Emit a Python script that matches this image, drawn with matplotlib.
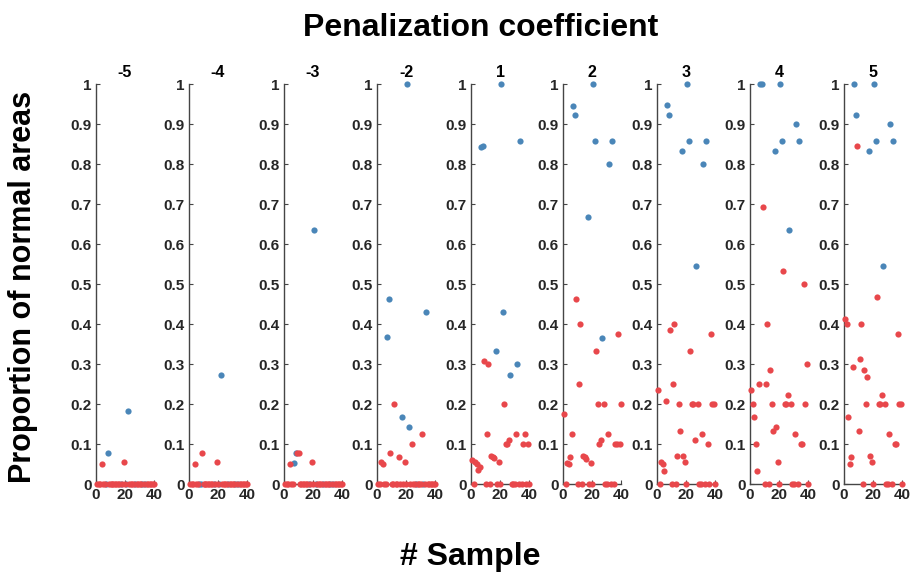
import numpy as np
import matplotlib.pyplot as plt

plt.rcParams["font.family"] = ["Liberation Sans", "DejaVu Sans"]
plt.rcParams["font.weight"] = "bold"

# penalization coefficients (one panel each)
coefs = ["-5", "-4", "-3", "-2", "1", "2", "3", "4", "5"]

# sample numbers of the two groups
red_samples = [1, 2, 3, 4, 5, 6, 9, 10, 11, 12, 13, 14, 15, 16, 18, 19, 20,
               23, 24, 25, 26, 28, 29, 30, 31, 33, 35, 36, 37, 38, 39, 40]
blue_samples = [7, 8, 17, 21, 22, 27, 32, 34]

# proportion of normal areas, red group
red_m5 = [0, 0, 0, 0.05, 0, 0, 0, 0, 0, 0, 0, 0, 0, 0, 0, 0.056, 0,
          0, 0, 0, 0, 0, 0, 0, 0, 0, 0, 0, 0, 0, 0, 0]
red_m4 = [0, 0, 0, 0.05, 0, 0, 0.077, 0, 0, 0, 0, 0, 0, 0, 0, 0.056, 0,
          0, 0, 0, 0, 0, 0, 0, 0, 0, 0, 0, 0, 0, 0, 0]
red_m3 = [0, 0, 0, 0.05, 0, 0, 0.077, 0.077, 0, 0, 0, 0, 0, 0, 0, 0.056, 0,
          0, 0, 0, 0, 0, 0, 0, 0, 0, 0, 0, 0, 0, 0, 0]
red_m2 = [0, 0, 0.056, 0.05, 0, 0, 0.077, 0, 0, 0.2, 0, 0, 0.067, 0, 0, 0.056, 0,
          0, 0.1, 0, 0, 0, 0, 0, 0.125, 0, 0, 0, 0, 0, 0, 0]
red_p1 = [0.059, 0, 0.056, 0.05, 0.036, 0.042, 0.308, 0, 0.125, 0.3, 0, 0.071,
          0.067, 0.065, 0, 0.056, 0, 0.2, 0.1, 0.1, 0.111, 0, 0, 0, 0.125, 0,
          0, 0.1, 0.125, 0, 0.1, 0]
red_p2 = [0.176, 0, 0.053, 0.05, 0.067, 0.125, 0.462, 0, 0.25, 0.4, 0, 0.071,
          0.067, 0.0625, 0, 0.053, 0, 0.333, 0.2, 0.1, 0.111, 0.2, 0, 0, 0.125,
          0, 0, 0.1, 0.1, 0.375, 0.1, 0.2]
red_p3 = [0.235, 0, 0.056, 0.05, 0.033, 0.208, 0.385, 0, 0.25, 0.4, 0, 0.071,
          0.2, 0.133, 0.071, 0.056, 0, 0.333, 0.2, 0.2, 0.111, 0.2, 0, 0, 0.125,
          0, 0.1, 0, 0.375, 0.2, 0.2, 0]
red_p4 = [0.235, 0.2, 0.167, 0.1, 0.033, 0.25, 0.692, 0, 0.25, 0.4, 0, 0.286,
          0.2, 0.133, 0.143, 0.056, 0, 0.533, 0.2, 0.2, 0.222, 0.2, 0, 0, 0.125,
          0, 0.1, 0.1, 0.5, 0.2, 0.3, 0]
red_p5 = [0.412, 0.4, 0.167, 0.05, 0.067, 0.292, 0.846, 0.133, 0.3125, 0.4, 0,
          0.286, 0.2, 0.267, 0.071, 0.056, 0, 0.467, 0.2, 0.2, 0.222, 0.2, 0, 0,
          0.125, 0, 0.1, 0.1, 0.375, 0.2, 0.2, 0]

# proportion of normal areas, blue group
blue_m5 = [0, 0.077, 0, 0, 0.182, 0, 0, 0]
blue_m4 = [0, 0, 0, 0, 0.273, 0, 0, 0]
blue_m3 = [0.053, 0.077, 0, 0.636, 0, 0, 0, 0]
blue_m2 = [0.368, 0.462, 0.167, 1.0, 0.143, 0, 0, 0.429]
blue_p1 = [0.843, 0.846, 0.333, 1.0, 0.429, 0.273, 0.3, 0.857]
blue_p2 = [0.946, 0.923, 0.667, 1.0, 0.857, 0.364, 0.8, 0.857]
blue_p3 = [0.947, 0.923, 0.833, 1.0, 0.857, 0.545, 0.8, 0.857]
blue_p4 = [1.0, 1.0, 0.833, 1.0, 0.857, 0.636, 0.9, 0.857]
blue_p5 = [1.0, 0.923, 0.833, 1.0, 0.857, 0.545, 0.9, 0.857]

red_all = [red_m5, red_m4, red_m3, red_m2, red_p1, red_p2, red_p3, red_p4, red_p5]
blue_all = [blue_m5, blue_m4, blue_m3, blue_m2, blue_p1, blue_p2, blue_p3, blue_p4, blue_p5]

RED = "#E8474B"
BLUE = "#4A86B8"
AXC = "#454545"
W, H = 911, 576

fig = plt.figure(figsize=(W / 100, H / 100), dpi=100)

lefts = [96, 189, 284, 377, 471, 563, 657, 750, 844]
for i, left in enumerate(lefts):
    ax = fig.add_axes([left / W, 92 / H, 58 / W, 400 / H])
    ax.scatter(blue_samples, blue_all[i], s=20, color=BLUE, linewidths=0,
               clip_on=False, zorder=3)
    ax.scatter(red_samples, red_all[i], s=20, color=RED, linewidths=0,
               clip_on=False, zorder=4)
    ax.set_xlim(0, 40)
    ax.set_ylim(0, 1)
    ax.set_xticks([0, 20, 40])
    ax.set_yticks(np.arange(0, 1.01, 0.1))
    ax.set_yticklabels(["0", "0.1", "0.2", "0.3", "0.4", "0.5", "0.6", "0.7",
                        "0.8", "0.9", "1"])
    for s in ["top", "right"]:
        ax.spines[s].set_visible(False)
    for s in ["left", "bottom"]:
        ax.spines[s].set_color(AXC)
        ax.spines[s].set_linewidth(1.0)
    ax.tick_params(direction="in", length=3, width=0.8, color=AXC,
                   labelsize=11, labelcolor="#262626", pad=3)
    for lab in ax.get_xticklabels() + ax.get_yticklabels():
        lab.set_fontweight("bold")
    ax.set_title(coefs[i], fontsize=11.5, fontweight="bold", pad=5)

fig.text(481 / W, 1 - 28 / H, "Penalization coefficient", ha="center",
         va="center", fontsize=23, fontweight="bold")
fig.text(23 / W, 1 - 287 / H, "Proportion of normal areas", ha="center",
         va="center", rotation=90, fontsize=22, fontweight="bold")
fig.text(470 / W, 1 - 557 / H, "# Sample", ha="center", va="center",
         fontsize=23, fontweight="bold")

plt.savefig("out.png", dpi=100)
plt.close()
